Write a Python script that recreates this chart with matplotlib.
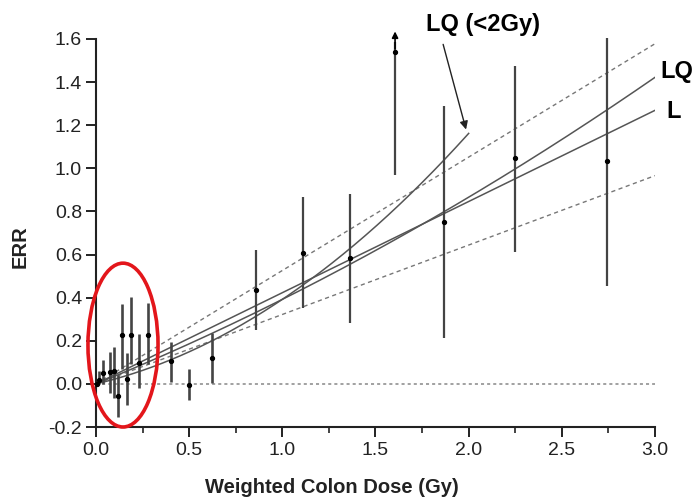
import numpy as np
import matplotlib
matplotlib.use("Agg")
import matplotlib.pyplot as plt
from matplotlib.patches import Ellipse

plt.rcParams["font.family"] = ["Liberation Sans", "DejaVu Sans"]

# datos (dosis en Gy, ERR con intervalos)
dose = [0.004, 0.016, 0.036, 0.074, 0.095, 0.118, 0.141, 0.165, 0.19, 0.231, 0.28,
        0.40, 0.497, 0.62, 0.86, 1.113, 1.365, 1.605, 1.87, 2.247, 2.741]
err = [0.0, 0.02, 0.05, 0.057, 0.062, -0.054, 0.225, 0.024, 0.228, 0.098, 0.228,
       0.107, -0.005, 0.119, 0.436, 0.609, 0.583, 1.54, 0.751, 1.047, 1.036]
err_lo = [0.0, 0.0, 0.0, -0.04, -0.065, -0.155, 0.067, -0.10, 0.09, -0.02, 0.09,
          0.01, -0.074, 0.006, 0.25, 0.351, 0.284, 0.97, 0.215, 0.614, 0.456]
err_hi = [0.0, 0.06, 0.11, 0.148, 0.17, 0.04, 0.37, 0.145, 0.405, 0.23, 0.377,
          0.195, 0.07, 0.237, 0.62, 0.869, 0.881, 1.635, 1.29, 1.476, 1.603]
truncated = 17  # punto con flecha hacia arriba

# modelos ajustados
L_slope = 0.423
LQ_a, LQ_b = 0.351, 0.041
LQ2_a, LQ2_b = 0.203, 0.189
ci_upper = 0.526
ci_lower = 0.322

fig = plt.figure(figsize=(6.96, 5.01), dpi=100)
ax = fig.add_axes([0.1379, 0.1477, 0.8032, 0.7745])

d = np.linspace(0, 3.0, 200)
d2 = np.linspace(0, 2.0, 200)
ax.plot([0, 3.0], [0, 0], linestyle=(0, (2, 2)), color="#888888", lw=1.1)
ax.plot(d, ci_upper * d, linestyle=(0, (3, 2.5)), color="#777777", lw=1.0)
ax.plot(d, ci_lower * d, linestyle=(0, (3, 2.5)), color="#777777", lw=1.0)
ax.plot(d, L_slope * d, color="#555555", lw=1.1)
ax.plot(d, LQ_a * d + LQ_b * d ** 2, color="#555555", lw=1.1)
ax.plot(d2, LQ2_a * d2 + LQ2_b * d2 ** 2, color="#555555", lw=1.1)

for i in range(len(dose)):
    top = err_hi[i]
    if i == truncated:
        top = err_hi[i] - 0.05
    w = 1.9 if dose[i] < 0.7 else 1.6
    ax.plot([dose[i], dose[i]], [err_lo[i], top], color="#444444", lw=w,
            solid_capstyle="butt", clip_on=False)
ax.plot(dose, err, "o", color="black", markersize=2.8, clip_on=False, zorder=5)
ax.annotate("", xy=(dose[truncated], err_hi[truncated]),
            xytext=(dose[truncated], err_hi[truncated] - 0.08),
            arrowprops=dict(arrowstyle="-|>", color="black", lw=1.2,
                            mutation_scale=9, shrinkA=0, shrinkB=0),
            annotation_clip=False)

# etiquetas de modelos
ax.annotate("", xy=(1.986, 1.18), xytext=(1.863, 1.575),
            arrowprops=dict(arrowstyle="-|>", color="#222222", lw=1.0,
                            mutation_scale=12, shrinkA=0, shrinkB=0),
            annotation_clip=False)
ax.text(2.077, 1.667, "LQ (<2Gy)", fontsize=17, fontweight="bold",
        ha="center", va="center", clip_on=False)
ax.text(3.027, 1.451, "LQ", fontsize=17, fontweight="bold",
        ha="left", va="center", clip_on=False)
ax.text(3.062, 1.264, "L", fontsize=17, fontweight="bold",
        ha="left", va="center", clip_on=False)

# elipse roja en dosis bajas
ell = Ellipse((0.145, 0.18), 0.376, 0.76, fill=False, edgecolor="#e3161b",
              lw=2.6, clip_on=False, zorder=6)
ax.add_patch(ell)

ax.set_xlim(0, 3.0)
ax.set_ylim(-0.2, 1.6)
ax.set_xticks(np.arange(0, 3.01, 0.5))
ax.set_xticks(np.arange(0.25, 3.0, 0.5), minor=True)
ax.set_yticks(np.arange(-0.2, 1.61, 0.2))
ax.set_xticklabels(["0.0", "0.5", "1.0", "1.5", "2.0", "2.5", "3.0"])
ax.set_yticklabels(["-0.2", "0.0", "0.2", "0.4", "0.6", "0.8", "1.0", "1.2", "1.4", "1.6"])
ax.tick_params(axis="both", which="major", labelsize=14, length=7, width=1.4,
               color="#222222", labelcolor="#222222")
ax.tick_params(axis="x", which="minor", length=4, width=1.2, color="#222222")
ax.tick_params(axis="y", pad=3)
ax.tick_params(axis="x", pad=4)
ax.spines["top"].set_visible(False)
ax.spines["right"].set_visible(False)
ax.spines["left"].set_linewidth(1.5)
ax.spines["bottom"].set_linewidth(1.5)
ax.spines["left"].set_color("#222222")
ax.spines["bottom"].set_color("#222222")

ax.set_xlabel("Weighted Colon Dose (Gy)", fontsize=14.5, fontweight="bold", color="#222222")
ax.set_ylabel("ERR", fontsize=14.5, fontweight="bold", color="#222222")
ax.xaxis.set_label_coords(0.4216, -0.131)
ax.yaxis.set_label_coords(-0.118, 0.465)

plt.savefig("out.png", dpi=100)
